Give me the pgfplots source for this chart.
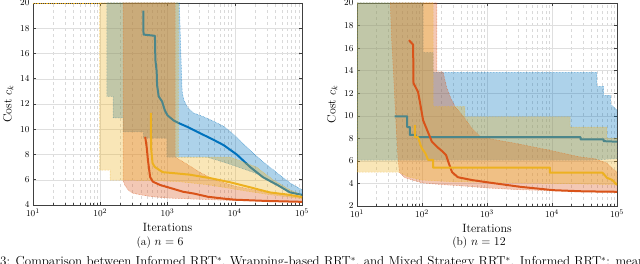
\documentclass[border=0pt]{standalone}
\usepackage{pgfplots}
\pgfplotsset{compat=1.18}
\definecolor{mblue}{RGB}{0,114,189}
\definecolor{morange}{RGB}{217,83,25}
\definecolor{myellow}{RGB}{237,177,32}
\tikzset{
  myband/.style={fill=#1, fill opacity=0.32, draw=#1, draw opacity=0.8, densely dotted, line width=0.5pt},
  myline/.style={draw=#1, line width=2pt, line join=round},
}
\begin{document}
\begin{tikzpicture}
\useasboundingbox (0,0) rectangle (640pt,264pt);
% ---------------- (a) n = 6 ----------------
\begin{axis}[at={(33pt,59pt)}, anchor=south west, width=269pt, height=202pt,
    scale only axis, xmode=log, xmin=10, xmax=100000,
    ymin=4, ymax=20, ytick={4,6,...,20},
    xtick={10,100,1000,10000,100000},
    xmajorgrids, xminorgrids, ymajorgrids,
    major grid style={gray!25, line width=0.4pt},
    minor grid style={gray!30, dashed, line width=0.4pt},
    axis line style={black!75, line width=0.5pt},
    tick style={black!75, line width=0.5pt},
    tick align=inside, major tick length=3pt, minor tick length=1.5pt,
    tick label style={font=\fontsize{9.5}{10}\selectfont},
    label style={font=\fontsize{12}{13}\selectfont},
    xlabel={Iterations}, ylabel={Cost $c_k$}]
\addplot[myellow, line width=0.8pt, densely dotted] coordinates {(10,20) (98,20)};
\addplot[myband=mblue] coordinates {(125,20) (1500,20) (1580,16) (1650,13) (1750,12.3) (2000,11.7) (2400,11.3) (3400,11.0) (5000,10.6) (7000,10.2) (10000,9.5) (15000,8.6) (24000,7.6) (37000,6.8) (66000,5.75) (100000,5.2)
 (100000,4.75) (66000,5.1) (37000,5.7) (21000,6.5) (10000,7.1) (6800,7.4) (3800,7.8) (980,7.8) (980,9.3) (437,9.3) (437,9.8) (218,9.8) (218,10.9) (155,10.9) (155,12.6) (125,12.6) (125,20)};
\addplot[myband=morange] coordinates {(218,20) (1300,20) (1300,7.8) (2000,7.2) (3000,6.6) (5000,6.0) (10000,5.5) (30000,5.0) (100000,4.65)
 (100000,4.25) (10000,4.35) (3000,4.45) (1000,4.55) (600,4.65) (400,4.8) (300,4.95) (260,5.2) (230,5.6) (218,6.0) (218,20)};
\addplot[myline=mblue] coordinates {(436,19.4) (440,17.5) (650,17.4) (660,15.5) (690,14.6) (700,13.5) (740,12.6) (830,12.2) (912,11.5) (1000,11.1) (1230,10.7) (1450,10.5) (1950,10.2) (3000,9.7) (4300,9.3) (6800,8.75) (10700,8.0) (17000,7.0) (26300,6.2) (42600,5.6) (66000,5.0) (100000,4.8)};
\addplot[myband=myellow] coordinates {(98,20) (1450,20) (1450,7.8) (3000,7.8) (8500,7.8) (21000,7.0) (37000,6.0) (66000,5.2) (100000,4.8)
 (100000,4.5) (30000,4.85) (10000,5.25) (4000,5.6) (1500,5.85) (500,5.95) (140,5.98) (140,6.77) (98,6.77) (98,20)};
\addplot[myline=morange] coordinates {(466,9.4) (490,8.6) (513,7.5) (540,6.6) (553,6.2) (605,5.85) (780,5.58) (1100,5.35) (1700,5.05) (2500,4.9) (4000,4.65) (7000,4.5) (10000,4.42) (30000,4.32) (100000,4.25)};
\addplot[myline=myellow] coordinates {(565,11.3) (570,8.5) (600,7.3) (650,7.0) (850,6.6) (1380,6.5) (2150,6.4) (4300,6.13) (8500,5.8) (17000,5.4) (33000,5.0) (66000,4.8) (100000,4.63)};
\end{axis}
% ---------------- (b) n = 12 ----------------
\begin{axis}[at={(357pt,58pt)}, anchor=south west, width=260pt, height=203pt,
    scale only axis, xmode=log, xmin=10, xmax=100000,
    ymin=2, ymax=20, ytick={2,4,...,20},
    xtick={10,100,1000,10000,100000},
    xmajorgrids, xminorgrids, ymajorgrids,
    major grid style={gray!25, line width=0.4pt},
    minor grid style={gray!30, dashed, line width=0.4pt},
    axis line style={black!75, line width=0.5pt},
    tick style={black!75, line width=0.5pt},
    tick align=inside, major tick length=3pt, minor tick length=1.5pt,
    tick label style={font=\fontsize{9.5}{10}\selectfont},
    label style={font=\fontsize{12}{13}\selectfont},
    xlabel={Iterations}, ylabel={Cost $c_k$}]
\addplot[myband=mblue] coordinates {(10,20) (104,20) (104,15.6) (148,15.6) (148,13.85) (49000,13.85) (49000,12.6) (62000,12.6) (62000,11.8) (80000,11.8) (80000,11.0) (100000,10.5)
 (100000,6.2) (40000,6.07) (10,6.07) (10,20)};
\addplot[myband=morange] coordinates {(32.5,20) (170,20) (170,13.9) (210,13.9) (240,12.5) (280,11.5) (323,10.8) (450,9.8) (600,8.8) (800,8.1) (2500,7.6) (8300,7.0) (27000,6.35) (45000,6.2) (70000,5.8) (90000,5.2) (100000,5.0)
 (100000,3.2) (10000,3.35) (3000,3.45) (1000,3.6) (500,3.75) (200,3.9) (100,4.05) (55,4.5) (45,5.0) (43,6.0) (40,9) (37,13) (34,17) (32.5,20)};
\addplot[myline=mblue] coordinates {(38,9.95) (59,9.95) (59,9.0) (65,9.0) (65,8.3) (80,8.3) (80,8.1) (27500,8.1) (27500,7.9) (62000,7.9) (62000,7.75) (100000,7.7)};
\addplot[myband=myellow] coordinates {(10,20) (148,20) (148,10.8) (458,10.8) (458,9.9) (19000,9.9) (19000,9.0) (70000,9.0) (70000,8.0) (100000,8.0)
 (100000,3.9) (10000,4.0) (1000,4.1) (300,4.15) (100,4.3) (60,4.6) (45,5.0) (10,5.0) (10,20)};
\addplot[myline=morange] coordinates {(63,16.7) (73,16.3) (74,12.9) (87,12.1) (93,11.2) (104,9.6) (142,7.7) (170,7.25) (210,6.8) (235,6.5) (258,5.8) (290,5.0) (357,4.55) (590,4.3) (930,4.13) (3260,3.7) (10600,3.4) (30000,3.3) (100000,3.26)};
\addplot[myline=myellow] coordinates {(78,9.2) (78,8.1) (87,8.1) (95,7.4) (100,7.1) (112,6.7) (124,6.1) (148,6.1) (148,5.4) (9300,5.4) (9300,4.95) (60000,4.95) (70000,4.5) (85000,4.3) (95000,4.0) (100000,3.87)};
\end{axis}
\node[font=\fontsize{11.5}{13}\selectfont] at (160pt,21pt) {(a) $n=6$};
\node[font=\fontsize{11.5}{13}\selectfont] at (479pt,21pt) {(b) $n=12$};
\begin{scope}
\clip (0,0) rectangle (640pt,264pt);
\node[anchor=base west, inner sep=0pt, font=\fontsize{13}{15}\selectfont] at (0pt,-1.7pt) {3: Comparison between Informed RRT$^*$, Wrapping-based RRT$^*$, and Mixed Strategy RRT$^*$. Informed RRT$^*$: mean and standard deviation};
\end{scope}
\end{tikzpicture}
\end{document}
